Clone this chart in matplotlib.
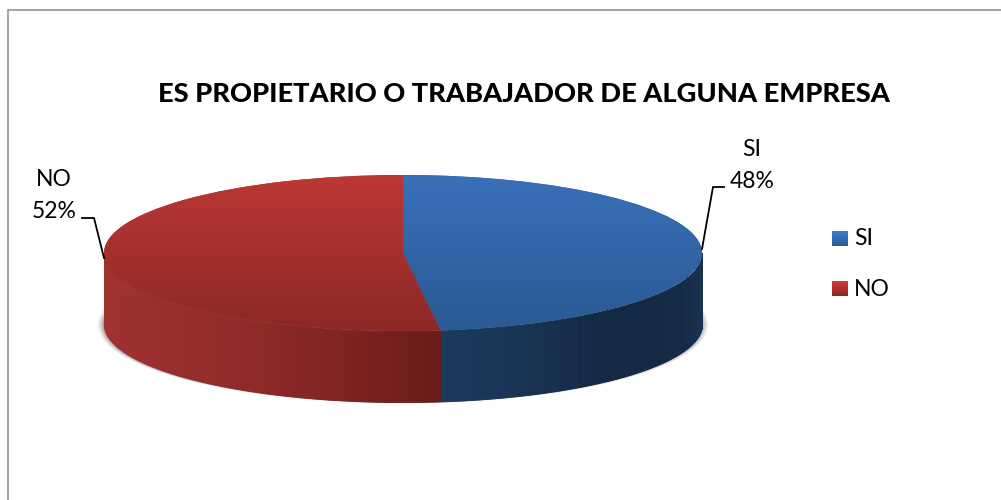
import numpy as np
import matplotlib
matplotlib.use("Agg")
import matplotlib.pyplot as plt
from matplotlib.patches import Ellipse
from matplotlib.colors import LinearSegmentedColormap

categories = ["SI", "NO"]
percent_values = [48, 52]
chart_title = "ES PROPIETARIO O TRABAJADOR DE ALGUNA EMPRESA"

W, H = 1001, 500
FONT = "Lato"
top_cmaps = [
    LinearSegmentedColormap.from_list("b", ["#3A70B8", "#2A5A94"]),
    LinearSegmentedColormap.from_list("r", ["#BC3835", "#8C2826"]),
]
legend_cmaps = [
    LinearSegmentedColormap.from_list("lb", ["#3F7CCB", "#2A5A94"]),
    LinearSegmentedColormap.from_list("lr", ["#D23C38", "#8C2826"]),
]
mid_colors = ["#32659F", "#A4302D"]
side_stops = [
    ([0.117, 0.39, 0.67, 0.93, 1.0],
     [(27, 58, 95), (25, 52, 85), (20, 40, 68), (21, 42, 70), (25, 50, 80)]),
    ([-1.0, -0.51, -0.18, 0.117],
     [(160, 50, 48), (143, 42, 40), (125, 35, 33), (105, 28, 26)]),
]

fig = plt.figure(figsize=(W / 100, H / 100), dpi=100, facecolor="white")

# overlay in pixel coordinates: frame, title, labels, legend
ov = fig.add_axes([0, 0, 1, 1], zorder=3)
ov.set_xlim(0, W)
ov.set_ylim(H, 0)
ov.axis("off")
ov.patch.set_alpha(0)
ov.plot([8, 8, W], [H, 10, 10], color="#8C8C8C", lw=1.1, solid_joinstyle="miter")

title = ov.text(524, 94.5, chart_title, ha="center", va="center", fontsize=19.6,
                fontweight="black", family=FONT, color="black")

# pie
ax = fig.add_axes([104 / W, (H - 331) / H, 598 / W, 156 / H], zorder=2)
wedges, _ = ax.pie(percent_values, startangle=90, counterclock=False, radius=1,
                   colors=mid_colors, frame=False)
ax.set_aspect("auto")
ax.axis("off")
ax.set_xlim(-1, 1)
ax.set_ylim(-1, 1)
depth = 71 / 78

# shadow
for grow, alpha in [(1.020, 0.10), (1.014, 0.14), (1.008, 0.20), (1.003, 0.30)]:
    ax.add_patch(Ellipse((0, -depth - 0.01), 2 * grow, 2 * (1 + (grow - 1) * 0.4),
                         facecolor="#555555", edgecolor="none", alpha=alpha,
                         clip_on=False, zorder=0.5))

# side walls
for wedge, (stops, cols) in zip(wedges, side_stops):
    lo = max(np.deg2rad(wedge.theta1), -np.pi)
    hi = min(np.deg2rad(wedge.theta2), 0)
    angles = np.linspace(lo, hi, 181)
    cols = np.array(cols) / 255
    for a0, a1 in zip(angles[:-1], angles[1:]):
        xs = np.cos([a0, a1])
        ys = np.sin([a0, a1])
        xm = xs.mean()
        c = [np.interp(xm, stops, cols[:, k]) for k in range(3)]
        ax.fill_between(xs, ys, ys - depth, color=c, lw=0.6, clip_on=False, zorder=1)

# top face with vertical gradient
grad = np.linspace(0, 1, 256).reshape(-1, 1)
for wedge, cmap in zip(wedges, top_cmaps):
    wedge.set_zorder(2)
    im = ax.imshow(grad, cmap=cmap, extent=(-1, 1, -1, 1), aspect="auto",
                   origin="upper", zorder=2.1, interpolation="bilinear")
    im.set_clip_path(wedge)
ax.set_xlim(-1, 1)
ax.set_ylim(-1, 1)

# data labels with leader lines
label_pos = [(752, 149, 181), (54, 179, 211)]
leaders = [([702, 713, 724], [249, 187, 187]), ([104, 94, 82], [258, 218, 218])]
for cat, val, (lx, ly1, ly2), (px, py) in zip(categories, percent_values, label_pos, leaders):
    ov.text(lx, ly1, cat, ha="center", va="center", fontsize=16.5, family=FONT, color="black")
    ov.text(lx, ly2, f"{val}%", ha="center", va="center", fontsize=16.5, family=FONT, color="black")
    ov.plot(px, py, color="black", lw=1.3, solid_joinstyle="miter")

# legend
legend_y = [238.5, 289]
for cat, cmap, y in zip(categories, legend_cmaps, legend_y):
    ov.imshow(grad, cmap=cmap, extent=(832, 847.5, y + 7.5, y - 7.5), aspect="auto",
              origin="upper", zorder=4)
    ov.text(854, y, cat, ha="left", va="center", fontsize=16.5, family=FONT, color="black")
ov.set_xlim(0, W)
ov.set_ylim(H, 0)

fig.savefig("out.png", dpi=100, facecolor="white")
